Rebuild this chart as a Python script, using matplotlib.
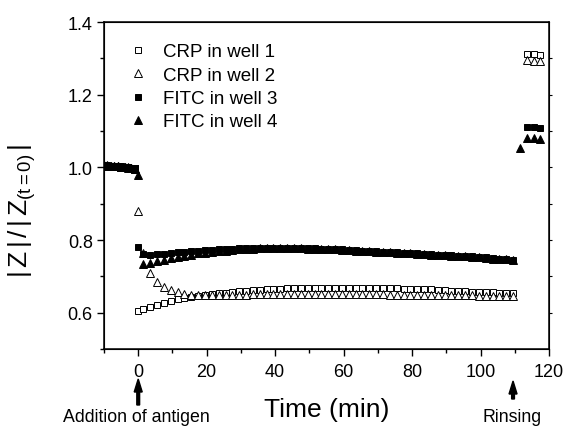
import matplotlib
matplotlib.use("Agg")
import matplotlib.pyplot as plt
from matplotlib.patches import FancyArrow
from matplotlib.transforms import IdentityTransform

plt.rcParams['font.family'] = ['Liberation Sans', 'DejaVu Sans']
plt.rcParams['mathtext.fontset'] = 'custom'
plt.rcParams['mathtext.rm'] = 'Liberation Sans'
plt.rcParams['mathtext.it'] = 'Liberation Sans'

######## DATA ############

# before antigen addition (all four wells overlap)
t_pre = [-10, -9, -8, -7, -6, -5, -4, -3, -2, -1]
crp1_pre = [1.006, 1.005, 1.005, 1.004, 1.003, 1.002, 1.001, 1.000, 0.999, 0.997]
crp2_pre = [1.005, 1.005, 1.004, 1.003, 1.003, 1.002, 1.000, 0.999, 0.998, 0.996]
fitc3_pre = [1.007, 1.006, 1.005, 1.004, 1.004, 1.003, 1.002, 1.000, 0.999, 0.998]
fitc4_pre = [1.006, 1.006, 1.005, 1.005, 1.004, 1.002, 1.001, 1.000, 0.999, 0.996]

# after antigen addition
t_main = [0, 1.5, 3.5, 5.5, 7.5, 9.5, 11.5, 13.5, 15.5, 17.5, 19.5, 21.5, 23.5, 25.5,
          27.5, 29.5, 31.5, 33.5, 35.5, 37.5, 39.5, 41.5, 43.5, 45.5, 47.5, 49.5, 51.5,
          53.5, 55.5, 57.5, 59.5, 61.5, 63.5, 65.5, 67.5, 69.5, 71.5, 73.5, 75.5, 77.5,
          79.5, 81.5, 83.5, 85.5, 87.5, 89.5, 91.5, 93.5, 95.5, 97.5, 99.5, 101.5, 103.5,
          105.5, 107.5, 109.5]

crp1 = [0.605, 0.610, 0.616, 0.622, 0.628, 0.633, 0.637, 0.641, 0.644, 0.647, 0.649,
        0.651, 0.653, 0.655, 0.657, 0.659, 0.660, 0.662, 0.663, 0.664, 0.665, 0.666,
        0.667, 0.667, 0.668, 0.668, 0.669, 0.669, 0.669, 0.669, 0.669, 0.669, 0.669,
        0.669, 0.668, 0.668, 0.668, 0.667, 0.667, 0.666, 0.666, 0.665, 0.664, 0.664,
        0.663, 0.662, 0.661, 0.660, 0.659, 0.658, 0.657, 0.656, 0.656, 0.655, 0.654,
        0.653]

crp2 = [0.880, 0.765, 0.710, 0.684, 0.671, 0.662, 0.656, 0.652, 0.650, 0.649, 0.648,
        0.648, 0.648, 0.649, 0.649, 0.650, 0.650, 0.651, 0.651, 0.651, 0.652, 0.652,
        0.652, 0.652, 0.652, 0.652, 0.652, 0.652, 0.652, 0.652, 0.652, 0.652, 0.651,
        0.651, 0.651, 0.651, 0.651, 0.650, 0.650, 0.650, 0.650, 0.650, 0.649, 0.649,
        0.649, 0.649, 0.648, 0.648, 0.648, 0.648, 0.647, 0.647, 0.647, 0.647, 0.646,
        0.646]

fitc3 = [0.780, 0.762, 0.760, 0.761, 0.762, 0.764, 0.766, 0.768, 0.770, 0.771, 0.772,
         0.773, 0.774, 0.775, 0.776, 0.777, 0.777, 0.778, 0.778, 0.779, 0.779, 0.779,
         0.779, 0.778, 0.778, 0.777, 0.777, 0.776, 0.775, 0.775, 0.774, 0.773, 0.772,
         0.771, 0.770, 0.769, 0.768, 0.767, 0.766, 0.765, 0.764, 0.763, 0.762, 0.761,
         0.760, 0.759, 0.758, 0.757, 0.756, 0.755, 0.753, 0.752, 0.750, 0.749, 0.748,
         0.746]

fitc4 = [0.978, 0.735, 0.738, 0.742, 0.746, 0.750, 0.754, 0.757, 0.760, 0.763, 0.765,
         0.767, 0.769, 0.771, 0.772, 0.774, 0.775, 0.776, 0.777, 0.777, 0.778, 0.778,
         0.778, 0.777, 0.777, 0.776, 0.776, 0.775, 0.774, 0.774, 0.773, 0.772, 0.771,
         0.770, 0.769, 0.768, 0.767, 0.766, 0.765, 0.764, 0.763, 0.762, 0.761, 0.760,
         0.759, 0.758, 0.757, 0.756, 0.755, 0.754, 0.752, 0.751, 0.749, 0.748, 0.747,
         0.745]

# after rinsing
t_rinse = [113.5, 115.5, 117.5]
crp1_rinse = [1.313, 1.312, 1.310]
crp2_rinse = [1.295, 1.294, 1.293]
fitc3_rinse = [1.110, 1.110, 1.108]
t_rinse4 = [111.5, 113.5, 115.5, 117.5]
fitc4_rinse = [1.054, 1.080, 1.080, 1.079]

labels = ["CRP in well 1", "CRP in well 2", "FITC in well 3", "FITC in well 4"]

# event times marked by arrows under the axis
t_antigen = 0
t_rinsing = 109.5

######## PLOT ############

fig = plt.figure(figsize=(5.63, 4.27), dpi=100)
ax = fig.add_axes([0.1847, 0.1803, 0.7904, 0.7658])

series = [
    (crp1_pre + crp1 + crp1_rinse, t_pre + t_main + t_rinse, 's', 'white', 4.6),
    (crp2_pre + crp2 + crp2_rinse, t_pre + t_main + t_rinse, '^', 'white', 5.4),
    (fitc3_pre + fitc3 + fitc3_rinse, t_pre + t_main + t_rinse, 's', 'black', 4.6),
    (fitc4_pre + fitc4 + fitc4_rinse, t_pre + t_main + t_rinse4, '^', 'black', 5.4),
]
for (y, x, m, fc, ms), lab in zip(series, labels):
    ax.plot(x, y, linestyle='none', marker=m, markerfacecolor=fc,
            markeredgecolor='black', markeredgewidth=0.7, markersize=ms, label=lab)

ax.set_xlim(-10, 120)
ax.set_ylim(0.5, 1.4)
ax.set_xticks([0, 20, 40, 60, 80, 100, 120])
ax.set_xticks([-10, 10, 30, 50, 70, 90, 110], minor=True)
ax.set_yticks([0.6, 0.8, 1.0, 1.2, 1.4])
ax.set_yticks([0.5, 0.7, 0.9, 1.1, 1.3], minor=True)
ax.set_yticklabels(["0.6", "0.8", "1.0", "1.2", "1.4"])

ax.tick_params(axis='both', which='major', direction='out', length=5, width=1,
               labelsize=13, pad=3)
ax.tick_params(axis='both', which='minor', direction='out', length=3, width=1)
ax.tick_params(axis='x', which='major', pad=5)
for sp in ax.spines.values():
    sp.set_linewidth(1.1)

# short ticks on right edge
ax2 = ax.twinx()
ax2.set_ylim(0.5, 1.4)
ax2.set_yticks([0.6, 0.7, 0.8, 0.9, 1.0, 1.1, 1.2, 1.3])
ax2.set_yticklabels([])
ax2.tick_params(axis='y', direction='out', length=2.5, width=0.8)

ax.set_xlabel("Time (min)", fontsize=19, labelpad=12)
fig.text(0.04, 0.505, r"$\mathregular{|\,Z\,|\,/\,|\,Z_{(t=0)}\,|}$", fontsize=19,
         rotation=90, ha='center', va='center')

ax.legend(loc='upper left', bbox_to_anchor=(0.025, 0.975), frameon=False, fontsize=13.5,
          handlelength=1.0, handletextpad=0.85, labelspacing=0.33, borderpad=0.2)

# event arrows (drawn in pixel space so the head keeps its shape)
H = fig.get_figheight() * fig.dpi
for t, top, bottom in [(t_antigen, 380, 406), (t_rinsing, 382, 400)]:
    xp = ax.transData.transform((t, 1.0))[0]
    fig.add_artist(FancyArrow(xp, H - bottom, 0, bottom - top, width=2.8,
                              head_width=8, head_length=13, length_includes_head=True,
                              transform=IdentityTransform(), color='black'))

fig.text(136 / 563, 1 - 409 / 427, "Addition of antigen", fontsize=12.8, ha='center', va='top')
fig.text(512 / 563, 1 - 409 / 427, "Rinsing", fontsize=12.8, ha='center', va='top')

fig.savefig("out.png", dpi=100)
